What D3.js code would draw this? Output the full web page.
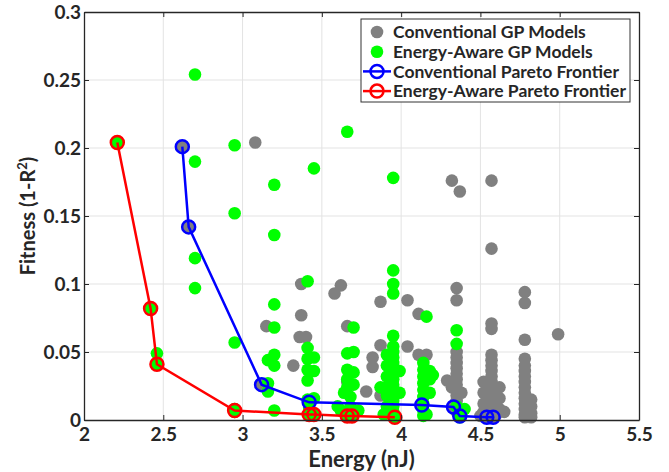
<!DOCTYPE html>
<html>
<head>
<meta charset="utf-8">
<script src="https://cdn.jsdelivr.net/npm/d3@7"></script>
<style>
  body { margin: 0; background: #fff; }
  text { font-family: Lato, "Open Sans", sans-serif; font-weight: bold; fill: #262626; }
</style>
</head>
<body>
<div id="chart"></div>
<script>
var width = 669;
var height = 472;

// tick values
var xTicks = [2, 2.5, 3, 3.5, 4, 4.5, 5, 5.5];
var yTicks = [0, 0.05, 0.1, 0.15, 0.2, 0.25, 0.3];
var xTickLabels = ["2", "2.5", "3", "3.5", "4", "4.5", "5", "5.5"];
var yTickLabels = ["0", "0.05", "0.1", "0.15", "0.2", "0.25", "0.3"];

// conventional GP models [energy, fitness]
var conventional = [
  [2.62,0.201],[2.66,0.142],[3.08,0.204],[3.12,0.026],[3.15,0.069],
  [3.37,0.100],[3.37,0.077],[3.36,0.061],[3.40,0.061],[3.32,0.040],[3.42,0.013],
  [3.58,0.093],[3.62,0.099],[3.66,0.069],[3.66,0.028],[3.78,0.021],[3.82,0.046],[3.82,0.039],
  [3.87,0.087],[3.87,0.055],[3.87,0.018],[4.04,0.088],[4.04,0.054],[4.11,0.078],
  [4.11,0.048],[4.16,0.048],[4.13,0.011],[4.29,0.029],
  [4.32,0.176],[4.37,0.168],[4.35,0.097],[4.35,0.088],[4.35,0.050],[4.35,0.046],
  [4.35,0.042],[4.35,0.038],[4.35,0.034],[4.35,0.030],[4.35,0.026],[4.35,0.022],
  [4.35,0.018],[4.35,0.014],[4.33,0.0095],[4.37,0.003],[4.35,0.006],[4.38,0.020],[4.32,0.024],
  [4.57,0.176],[4.57,0.126],[4.57,0.071],[4.57,0.067],[4.57,0.048],[4.57,0.044],
  [4.57,0.040],[4.57,0.036],[4.57,0.032],[4.57,0.028],[4.57,0.024],[4.57,0.020],
  [4.57,0.016],[4.57,0.012],[4.57,0.008],[4.54,0.002],[4.58,0.002],[4.52,0.028],
  [4.52,0.020],[4.52,0.012],[4.52,0.006],[4.62,0.024],[4.62,0.016],[4.62,0.008],
  [4.60,0.004],[4.65,0.006],[4.50,0.003],
  [4.78,0.094],[4.78,0.086],[4.78,0.059],[4.78,0.045],[4.78,0.040],[4.78,0.036],
  [4.78,0.032],[4.78,0.028],[4.78,0.024],[4.78,0.020],[4.78,0.016],[4.78,0.012],
  [4.78,0.008],[4.78,0.004],[4.78,0.002],[4.82,0.015],[4.82,0.010],[4.82,0.005],
  [4.82,0.002],[4.80,0.007],
  [4.99,0.063]
];

// energy-aware GP models [energy, fitness]
var energyAware = [
  [2.70,0.254],[2.70,0.190],[2.95,0.202],[2.95,0.152],[2.70,0.119],[2.70,0.097],[2.95,0.057],
  [2.21,0.204],[2.42,0.082],[2.46,0.049],[2.46,0.041],[2.95,0.008],[2.95,0.006],
  [3.20,0.173],[3.20,0.136],[3.20,0.085],[3.20,0.068],[3.16,0.044],[3.20,0.048],
  [3.20,0.040],[3.16,0.027],[3.16,0.021],[3.20,0.007],
  [3.45,0.185],[3.41,0.102],[3.41,0.053],[3.45,0.046],[3.41,0.045],[3.41,0.037],
  [3.45,0.036],[3.41,0.029],[3.45,0.016],[3.41,0.015],[3.42,0.009],[3.45,0.004],
  [3.42,0.004],[3.60,0.010],
  [3.66,0.212],[3.70,0.068],[3.66,0.049],[3.70,0.050],[3.66,0.037],[3.70,0.035],
  [3.66,0.030],[3.70,0.026],[3.66,0.024],[3.68,0.017],[3.68,0.010],[3.66,0.003],
  [3.69,0.003],[3.62,0.007],[3.73,0.007],[3.64,0.020],
  [3.95,0.178],[3.95,0.110],[3.95,0.100],[3.95,0.093],[3.95,0.062],[3.95,0.054],
  [3.95,0.050],[3.95,0.046],[3.95,0.042],[3.95,0.038],[3.95,0.034],[3.95,0.030],
  [3.95,0.026],[3.95,0.022],[3.95,0.018],[3.95,0.014],[3.95,0.010],[3.95,0.006],
  [3.96,0.002],[3.91,0.048],[3.91,0.040],[3.91,0.032],[3.91,0.024],[3.91,0.018],
  [3.87,0.024],[3.91,0.010],[3.89,0.004],[3.99,0.036],[3.99,0.020],
  [4.16,0.076],[4.14,0.042],[4.14,0.037],[4.18,0.036],[4.14,0.032],[4.18,0.030],
  [4.14,0.027],[4.14,0.022],[4.14,0.017],[4.14,0.012],[4.14,0.007],[4.14,0.003],
  [4.16,0.004],[4.18,0.020],[4.20,0.033],
  [4.35,0.066],[4.35,0.056],[4.35,0.010],[4.37,0.006],[4.40,0.008],[4.37,0.002]
];

// pareto frontiers
var conventionalFront = [
  [2.62,0.201],[2.66,0.142],[3.12,0.026],[3.42,0.013],[4.13,0.011],
  [4.33,0.0095],[4.37,0.003],[4.54,0.002],[4.58,0.002]
];
var energyAwareFront = [
  [2.21,0.204],[2.42,0.082],[2.46,0.041],[2.95,0.007],[3.42,0.004],
  [3.45,0.004],[3.66,0.003],[3.69,0.003],[3.96,0.002]
];

var margin = {top: 12, right: 30, bottom: 52, left: 84};
var innerW = width - margin.left - margin.right;
var innerH = height - margin.top - margin.bottom;

var svg = d3.select("#chart").append("svg")
    .attr("width", width)
    .attr("height", height);

var x = d3.scaleLinear().domain([2, 5.5]).range([margin.left, margin.left + innerW]);
var y = d3.scaleLinear().domain([0, 0.3]).range([margin.top + innerH, margin.top]);

// grid
svg.append("g").selectAll("line")
    .data(xTicks.slice(1, -1))
    .enter().append("line")
    .attr("x1", x).attr("x2", x)
    .attr("y1", margin.top).attr("y2", margin.top + innerH)
    .attr("stroke", "#e3e3e3").attr("stroke-width", 1);
svg.append("g").selectAll("line")
    .data(yTicks.slice(1, -1))
    .enter().append("line")
    .attr("y1", y).attr("y2", y)
    .attr("x1", margin.left).attr("x2", margin.left + innerW)
    .attr("stroke", "#e3e3e3").attr("stroke-width", 1);

// scatter
svg.append("g").selectAll("circle")
    .data(conventional)
    .enter().append("circle")
    .attr("cx", function (d) { return x(d[0]); })
    .attr("cy", function (d) { return y(d[1]); })
    .attr("r", 6.3)
    .attr("fill", "#808080");

svg.append("g").selectAll("circle")
    .data(energyAware)
    .enter().append("circle")
    .attr("cx", function (d) { return x(d[0]); })
    .attr("cy", function (d) { return y(d[1]); })
    .attr("r", 6.3)
    .attr("fill", "#00ff00");

var line = d3.line()
    .x(function (d) { return x(d[0]); })
    .y(function (d) { return y(d[1]); });

function drawFront(data, color) {
    var g = svg.append("g");
    g.append("path")
        .datum(data)
        .attr("d", line)
        .attr("fill", "none")
        .attr("stroke", color)
        .attr("stroke-width", 2.5);
    g.selectAll("circle")
        .data(data)
        .enter().append("circle")
        .attr("cx", function (d) { return x(d[0]); })
        .attr("cy", function (d) { return y(d[1]); })
        .attr("r", 6.5)
        .attr("fill", "none")
        .attr("stroke", color)
        .attr("stroke-width", 2.5);
}
drawFront(conventionalFront, "#0000ff");
drawFront(energyAwareFront, "#ff0000");

// axes (ticks inside, box on)
svg.append("g")
    .attr("transform", "translate(0," + (margin.top + innerH) + ")")
    .call(d3.axisBottom(x).tickValues(xTicks)
        .tickFormat(function (d, i) { return xTickLabels[i]; })
        .tickSize(-5).tickSizeOuter(0).tickPadding(8));
svg.append("g")
    .attr("transform", "translate(" + margin.left + ",0)")
    .call(d3.axisLeft(y).tickValues(yTicks)
        .tickFormat(function (d, i) { return yTickLabels[i]; })
        .tickSize(-5).tickSizeOuter(0).tickPadding(3));
svg.append("g")
    .attr("transform", "translate(0," + margin.top + ")")
    .call(d3.axisTop(x).tickValues(xTicks).tickFormat("").tickSize(-5).tickSizeOuter(0));
svg.append("g")
    .attr("transform", "translate(" + (margin.left + innerW) + ",0)")
    .call(d3.axisRight(y).tickValues(yTicks).tickFormat("").tickSize(-5).tickSizeOuter(0));

svg.selectAll(".domain").attr("stroke", "#262626").attr("stroke-width", 1.3);
svg.selectAll(".tick line").attr("stroke", "#262626");
svg.selectAll(".tick text")
    .style("font-family", "Lato, sans-serif")
    .style("font-weight", "bold")
    .style("font-size", "19px")
    .attr("fill", "#262626");

// axis labels
svg.append("text")
    .attr("x", margin.left + innerW / 2)
    .attr("y", 467)
    .attr("text-anchor", "middle")
    .style("font-size", "22px")
    .text("Energy (nJ)");

var yl = svg.append("text")
    .attr("transform", "translate(35," + (margin.top + innerH / 2) + ") rotate(-90)")
    .attr("text-anchor", "middle")
    .style("font-size", "20px");
yl.append("tspan").text("Fitness (1-R");
yl.append("tspan").attr("baseline-shift", "super").style("font-size", "13px").text("2");
yl.append("tspan").text(")");

// legend
var legendItems = ["Conventional GP Models", "Energy-Aware GP Models",
    "Conventional Pareto Frontier", "Energy-Aware Pareto Frontier"];
var legendColors = ["#808080", "#00ff00", "#0000ff", "#ff0000"];

var legend = svg.append("g").attr("transform", "translate(361,19)");
legend.append("rect")
    .attr("width", 269).attr("height", 83)
    .attr("fill", "#fff").attr("stroke", "#333").attr("stroke-width", 1);

legendItems.forEach(function (name, i) {
    var ly = 13 + i * 19.7;
    if (i < 2) {
        legend.append("circle").attr("cx", 16).attr("cy", ly).attr("r", 6.3)
            .attr("fill", legendColors[i]);
    } else {
        legend.append("line").attr("x1", 2).attr("x2", 30).attr("y1", ly).attr("y2", ly)
            .attr("stroke", legendColors[i]).attr("stroke-width", 2.5);
        legend.append("circle").attr("cx", 16).attr("cy", ly).attr("r", 6.5)
            .attr("fill", "none").attr("stroke", legendColors[i]).attr("stroke-width", 2.5);
    }
    legend.append("text")
        .attr("x", 32).attr("y", ly)
        .attr("dy", "0.35em")
        .style("font-size", "17.5px")
        .text(name);
});
</script>
</body>
</html>
